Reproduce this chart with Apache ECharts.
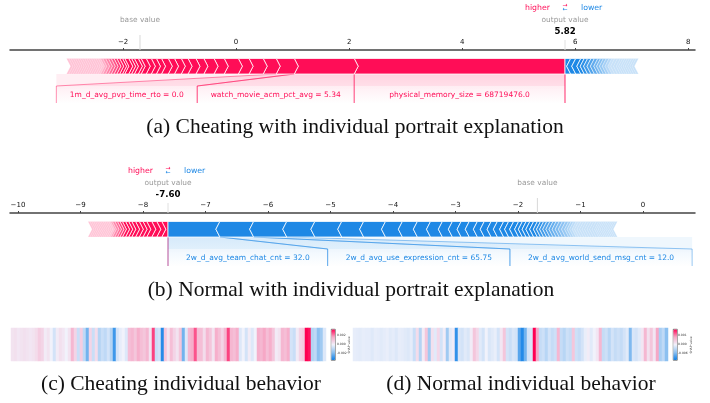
<!DOCTYPE html>
<html><head><meta charset="utf-8">
<script src="https://cdn.jsdelivr.net/npm/echarts@6/dist/echarts.min.js"></script>
<style>html,body{margin:0;padding:0;background:#fff}#c{width:710px;height:403px}</style>
</head><body><div id="c"></div>
<script>
// ---------- (a) force plot: cheating ----------
const forceA_base = -1.70;
const forceA_output = 5.82;
const forceA_pos = [3.73, 1.06, 0.32, 0.23, 0.25, 0.19, 0.25, 0.18, 0.18, 0.14, 0.14, 0.12, 0.12, 0.11, 0.12,
  0.09, 0.09, 0.09, 0.09, 0.05, 0.07, 0.05, 0.05, 0.07, 0.04, 0.05,
  0.05, 0.05, 0.05, 0.05, 0.05, 0.05,
  0.04, 0.04, 0.04, 0.04, 0.04, 0.04, 0.04, 0.04, 0.04, 0.04, 0.04, 0.04, 0.04, 0.04, 0.04, 0.04];
const forceA_neg = [0.10, 0.09, 0.09, 0.06, 0.06, 0.06, 0.06, 0.06,
  0.05, 0.05, 0.05, 0.05, 0.05, 0.05, 0.05, 0.05,
  0.04, 0.04, 0.04, 0.04, 0.04, 0.04, 0.04, 0.04];
const forceA_labels = ['physical_memory_size = 68719476.0', 'watch_movie_acm_pct_avg = 5.34', '1m_d_avg_pvp_time_rto = 0.0'];
const forceA_ticks = [-2, 0, 2, 4, 6, 8];

// ---------- (b) force plot: normal ----------
const forceB_base = -1.69;
const forceB_output = -7.60;
const forceB_pos = [0.10, 0.08, 0.08, 0.08, 0.06, 0.06, 0.06, 0.06, 0.05, 0.05, 0.05,
  0.04, 0.04, 0.04, 0.04, 0.03, 0.03, 0.03, 0.03, 0.03, 0.03, 0.03, 0.03, 0.03, 0.03, 0.03, 0.03, 0.03];
const forceB_neg = [0.83, 0.54, 0.53, 0.45, 0.43, 0.35, 0.35, 0.27, 0.24, 0.21, 0.19, 0.16, 0.14, 0.13, 0.13,
  0.11, 0.11, 0.10, 0.10, 0.08, 0.08, 0.08, 0.06, 0.06, 0.06, 0.06, 0.06,
  0.05, 0.05, 0.05, 0.05, 0.05, 0.05, 0.05, 0.05, 0.05, 0.05,
  0.04, 0.04, 0.04, 0.04, 0.04, 0.04, 0.04, 0.04, 0.04, 0.04, 0.04, 0.04,
  0.03, 0.03, 0.03, 0.03, 0.03, 0.03, 0.03, 0.03, 0.03, 0.03];
const forceB_labels = ['2w_d_avg_team_chat_cnt = 32.0', '2w_d_avg_use_expression_cnt = 65.75', '2w_d_avg_world_send_msg_cnt = 12.0'];
const forceB_ticks = [-10, -9, -8, -7, -6, -5, -4, -3, -2, -1, 0];

// ---------- (c)/(d) behaviour heatmaps (normalised SHAP value per step) ----------
const heatC = [0.1, 0.12, 0.08, 0.1, 0.12, 0.1, 0.08, 0.1, 0.15,
  0.25, 0.2,
  0.05, 0.1, 0.0, -0.15, 0.05, 0.12, 0.08, 0.0, 0.1,
  0.4,
  0.2, -0.2, 0.25, -0.25,
  -0.6,
  0.2, -0.2, 0.15, -0.3,
  -0.2, -0.25, -0.15, -0.3,
  -0.8,
  -0.15, -0.05, 0.0, -0.1,
  0.35, 0.4, 0.3, 0.45, 0.35, 0.3, 0.4,
  0.1, 0.8, -0.2, -0.15, -0.9,
  0.3, 0.1, 0.35, 0.2, 0.1, 0.3,
  -0.6, -0.1,
  0.4, 0.45, 0.75, 0.35,
  0.35, 0.15, 0.4, 0.3, 0.1, 0.45, 0.35, 0.2, 0.4,
  0.8,
  0.4, 0.35, 0.45,
  -0.1, 0.0, -0.15, 0.05, -0.1, 0.0,
  0.45, 0.4, 0.5, 0.35, 0.45, 0.3,
  0.05, 0.1,
  0.4, 0.35, 0.45,
  -0.15, -0.2, 0.05,
  0.2, 0.25,
  1.0, 0.95,
  -0.3, -0.25,
  -0.5, -0.4,
  -0.1];
const heatD = [-0.05, -0.06, -0.07, -0.05, -0.06, -0.06, -0.09, -0.05, -0.06, -0.08, -0.06, -0.04, -0.08, -0.06, -0.1, -0.05, -0.06, -0.08, -0.1, -0.06,
  -0.2, 0.15, -0.3, 0.05, 0.3, -0.4,
  0.12, -0.08, 0.18, -0.15, 0.04,
  -0.4, -0.08, 0.04, -0.85,
  -0.12, -0.15, -0.08, -0.12, 0.04,
  0.3, 0.18,
  -0.08, -0.15, 0.0, -0.12, -0.08, -0.04, -0.15, 0.08,
  0.3,
  -0.15, -0.2, -0.12, -0.15,
  -0.7, -0.9, -0.6,
  -0.15, -0.12,
  1.0, 0.5,
  -0.22, -0.18, -0.28, -0.15, -0.22, -0.18,
  0.4,
  -0.22, -0.28, -0.18, -0.22, 0.3, -0.18, -0.22, -0.15,
  -0.04, 0.04, -0.08, 0.0, 0.08,
  0.4,
  -0.22, -0.18, -0.28, -0.15, -0.22, -0.18, -0.22, -0.15,
  -0.08, -0.55,
  -0.12, -0.15, -0.08, 0.08,
  0.4,
  0.12, 0.3, 0.08, 0.5,
  -0.35, -0.25, -0.5];
const heatC_ticks = ['0.002', '0.000', '-0.002'];
const heatD_ticks = ['0.001', '0.000', '-0.006'];

const captions = ['(a) Cheating with individual portrait explanation', '(b) Normal with individual portrait explanation',
  '(c) Cheating individual behavior', '(d) Normal individual behavior'];

// ---------- rendering ----------
const RED = '#ff0d57', BLUE = '#1e88e5';
const SANS = '"DejaVu Sans", sans-serif';
const SERIF = '"Liberation Serif", "Times New Roman", serif';
const mctx = document.createElement('canvas').getContext('2d');
function textW(t, font) { mctx.font = font; return mctx.measureText(t).width; }
function rgba(hex, a) {
  const r = parseInt(hex.slice(1, 3), 16), g = parseInt(hex.slice(3, 5), 16), b = parseInt(hex.slice(5, 7), 16);
  return 'rgba(' + r + ',' + g + ',' + b + ',' + a + ')';
}
function fadeOp(i, fs, fl) { return i < fs ? 1 : Math.max(0.25, 1 - (i - fs + 1) / fl * 0.75); }

function makeForce(cfg) {
  return function (params, api) {
    const cs = params.coordSys;
    const ay = cs.y;
    const X = v => api.coord([v, 0])[0];
    const top = ay + 8.5, bot = ay + 24, mid = (top + bot) / 2, lt = ay + 36, lb = ay + 53;
    const tip = 4;
    const kids = [];
    const labFont = '7.5px ' + SANS;
    const side = cfg.labelSide;
    const eff = side === 'pos' ? cfg.pos : cfg.neg;
    const col = side === 'pos' ? RED : BLUE;
    let cur = X(cfg.output), segCur = cfg.output;
    const boxes = [];
    for (let k = 0; k < cfg.labels.length; k++) {
      const v0 = segCur, v1 = side === 'pos' ? segCur - eff[k] : segCur + eff[k];
      segCur = v1;
      const sa = X(v0), sb = X(v1);
      const w = Math.max(textW(cfg.labels[k], labFont) + cfg.pad, Math.abs(sb - sa));
      const ba = cur, bb = side === 'pos' ? cur - w : cur + w;
      cur = bb;
      boxes.push({ sa, sb, ba, bb });
    }
    const xo = X(cfg.output);
    kids.push({ type: 'rect', shape: { x: Math.min(xo, cur), y: bot, width: Math.abs(cur - xo), height: lt - bot },
      style: { fill: rgba(col, 0.07) } });
    boxes.forEach((b) => {
      kids.push({ type: 'polygon', shape: { points: [[b.sa, bot], [b.sb, bot], [b.bb, lt], [b.bb, lb], [b.ba, lb], [b.ba, lt]] },
        style: { fill: new echarts.graphic.LinearGradient(0, 0, 0, 1, [{ offset: 0, color: rgba(col, 0.12) }, { offset: 1, color: rgba(col, 0.0) }]) } });
    });
    boxes.forEach((b, k) => {
      kids.push({ type: 'polyline', shape: { points: [[b.sa, bot], [b.ba, lt], [b.ba, lb]] }, style: { stroke: rgba(col, 0.45), lineWidth: 1, fill: 'none' } });
      kids.push({ type: 'polyline', shape: { points: [[b.sb, bot], [b.bb, lt], [b.bb, lb]] }, style: { stroke: rgba(col, 0.45), lineWidth: 1, fill: 'none' } });
      kids.push({ type: 'text', x: (b.ba + b.bb) / 2, y: (lt + lb) / 2 + 1,
        style: { text: cfg.labels[k], font: labFont, fill: col, align: 'center', verticalAlign: 'middle' } });
    });
    kids.push({ type: 'line', shape: { x1: xo, y1: bot, x2: xo, y2: lb }, style: { stroke: rgba(RED, 0.55), lineWidth: 1 } });
    let c = cfg.output;
    cfg.pos.forEach((e, i) => {
      const x1 = X(c), x0 = X(c - e); c -= e;
      const pts = [[x0, top], [x1, top]];
      pts.push(i === 0 ? [x1, mid] : [x1 + tip, mid]);
      pts.push([x1, bot], [x0, bot], [x0 + tip, mid]);
      kids.push({ type: 'polygon', shape: { points: pts },
        style: { fill: RED, stroke: 'rgba(255,255,255,0.85)', lineWidth: 0.9, opacity: fadeOp(i, cfg.pfs, cfg.pfl) } });
    });
    c = cfg.output;
    cfg.neg.forEach((e, i) => {
      const x0 = X(c), x1 = X(c + e); c += e;
      const pts = [[x0, top], [x1, top], [x1 - tip, mid], [x1, bot], [x0, bot]];
      pts.push(i === 0 ? [x0, mid] : [x0 - tip, mid]);
      kids.push({ type: 'polygon', shape: { points: pts },
        style: { fill: BLUE, stroke: 'rgba(255,255,255,0.85)', lineWidth: 0.9, opacity: fadeOp(i, cfg.nfs, cfg.nfl) } });
    });
    const xb = X(cfg.base);
    kids.push({ type: 'line', shape: { x1: xb, y1: ay - 15, x2: xb, y2: ay }, style: { stroke: '#d8d8d8', lineWidth: 1 } });
    kids.push({ type: 'line', shape: { x1: xo, y1: ay - 10, x2: xo, y2: ay }, style: { stroke: '#e0e0e0', lineWidth: 1 } });
    kids.push({ type: 'text', x: xb, y: ay - 30, style: { text: 'base value', font: '7.4px ' + SANS, fill: '#999', align: 'center', verticalAlign: 'middle' } });
    kids.push({ type: 'text', x: xo, y: ay - 30, style: { text: 'output value', font: '7.4px ' + SANS, fill: '#999', align: 'center', verticalAlign: 'middle' } });
    kids.push({ type: 'text', x: xo, y: ay - 18, style: { text: cfg.valueText, font: 'bold 8.6px ' + SANS, fill: '#000', align: 'center', verticalAlign: 'middle' } });
    kids.push({ type: 'text', x: xo - 15, y: ay - 42, style: { text: 'higher', font: '7.8px ' + SANS, fill: RED, align: 'right', verticalAlign: 'middle' } });
    kids.push({ type: 'text', x: xo + 16, y: ay - 42, style: { text: 'lower', font: '7.8px ' + SANS, fill: BLUE, align: 'left', verticalAlign: 'middle' } });
    kids.push({ type: 'text', x: xo, y: ay - 44.5, style: { text: '\u2192', font: '6px ' + SANS, fill: RED, align: 'center', verticalAlign: 'middle' } });
    kids.push({ type: 'text', x: xo, y: ay - 40.5, style: { text: '\u2190', font: '6px ' + SANS, fill: BLUE, align: 'center', verticalAlign: 'middle' } });
    return { type: 'group', children: kids };
  };
}

const tickFmt = v => (v < 0 ? '\u2212' : '') + Math.abs(v);
function forceAxis(gi, min, max, ticks) {
  return { type: 'value', gridIndex: gi, position: 'top', min: min, max: max,
    axisLine: { show: true, onZero: false, lineStyle: { color: '#444', width: 1.5 } },
    axisTick: { show: true, customValues: ticks, length: 2, lineStyle: { color: '#444', width: 1 } },
    axisLabel: { show: true, customValues: ticks, formatter: tickFmt, fontSize: 7, fontFamily: SANS, color: '#111', margin: 4 },
    splitLine: { show: false } };
}

const idxC = heatC.map((_, i) => String(i));
const idxD = heatD.map((_, i) => String(i));
const cmap = ['#0a7de6', '#8cc0f0', '#f1f2fb', '#f6a8c6', '#ff0052'];

const chart = echarts.init(document.getElementById('c'), null, { renderer: 'canvas', width: 710, height: 403 });
const graphics = [];
[[355, 127], [351, 290], [181, 384], [521, 384]].forEach((p, i) => {
  graphics.push({ type: 'text', x: p[0], y: p[1], style: { text: captions[i], font: '21.5px ' + SERIF, fill: '#111', align: 'center', verticalAlign: 'middle' } });
});
[[337, heatC_ticks, 349], [678, heatD_ticks, 691]].forEach(([x, t, sx]) => {
  t.forEach((s, j) => graphics.push({ type: 'text', x: x, y: 335 + j * 9, style: { text: s, font: '3px ' + SANS, fill: '#333', align: 'left', verticalAlign: 'middle' } }));
  graphics.push({ type: 'text', x: sx, y: 345, rotation: Math.PI / 2, style: { text: 'SHAP value', font: '3px ' + SANS, fill: '#333', align: 'center', verticalAlign: 'middle' } });
});

chart.setOption({
  animation: false,
  grid: [
    { left: 10, width: 685, top: 50, height: 53 },
    { left: 10, width: 685, top: 213, height: 53 },
    { left: 11, width: 315, top: 328, height: 33 },
    { left: 353, width: 315, top: 328, height: 33 }
  ],
  xAxis: [
    forceAxis(0, -4, 8.12, forceA_ticks),
    forceAxis(1, -10.128, 0.832, forceB_ticks),
    { type: 'category', gridIndex: 2, data: idxC, show: false },
    { type: 'category', gridIndex: 3, data: idxD, show: false }
  ],
  yAxis: [
    { type: 'value', gridIndex: 0, min: 0, max: 1, show: false },
    { type: 'value', gridIndex: 1, min: 0, max: 1, show: false },
    { type: 'category', gridIndex: 2, data: ['s'], show: false },
    { type: 'category', gridIndex: 3, data: ['s'], show: false }
  ],
  visualMap: [
    { type: 'continuous', seriesIndex: 2, dimension: 2, min: -1, max: 1, inRange: { color: cmap }, calculable: false,
      orient: 'vertical', left: 331, top: 329, itemWidth: 4, itemHeight: 31, padding: 0, text: null, showLabel: false,
      borderColor: '#000', borderWidth: 0.5 },
    { type: 'continuous', seriesIndex: 3, dimension: 2, min: -1, max: 1, inRange: { color: cmap }, calculable: false,
      orient: 'vertical', left: 673, top: 329, itemWidth: 4, itemHeight: 31, padding: 0, text: null, showLabel: false,
      borderColor: '#000', borderWidth: 0.5 }
  ],
  graphic: graphics,
  series: [
    { type: 'custom', xAxisIndex: 0, yAxisIndex: 0, clip: false, silent: true, data: [[forceA_output, 0]],
      renderItem: makeForce({ base: forceA_base, output: forceA_output, pos: forceA_pos, neg: forceA_neg, labels: forceA_labels,
        labelSide: 'pos', pad: 27, valueText: forceA_output.toFixed(2), pfs: 26, pfl: 8, nfs: 4, nfl: 10 }) },
    { type: 'custom', xAxisIndex: 1, yAxisIndex: 1, clip: false, silent: true, data: [[forceB_output, 0]],
      renderItem: makeForce({ base: forceB_base, output: forceB_output, pos: forceB_pos, neg: forceB_neg, labels: forceB_labels,
        labelSide: 'neg', pad: 36, valueText: forceB_output.toFixed(2), pfs: 11, pfl: 6, nfs: 27, nfl: 14 }) },
    { type: 'heatmap', xAxisIndex: 2, yAxisIndex: 2, silent: true, data: heatC.map((v, i) => [i, 0, v]), itemStyle: { borderWidth: 0 } },
    { type: 'heatmap', xAxisIndex: 3, yAxisIndex: 3, silent: true, data: heatD.map((v, i) => [i, 0, v]), itemStyle: { borderWidth: 0 } }
  ]
});
</script></body></html>
